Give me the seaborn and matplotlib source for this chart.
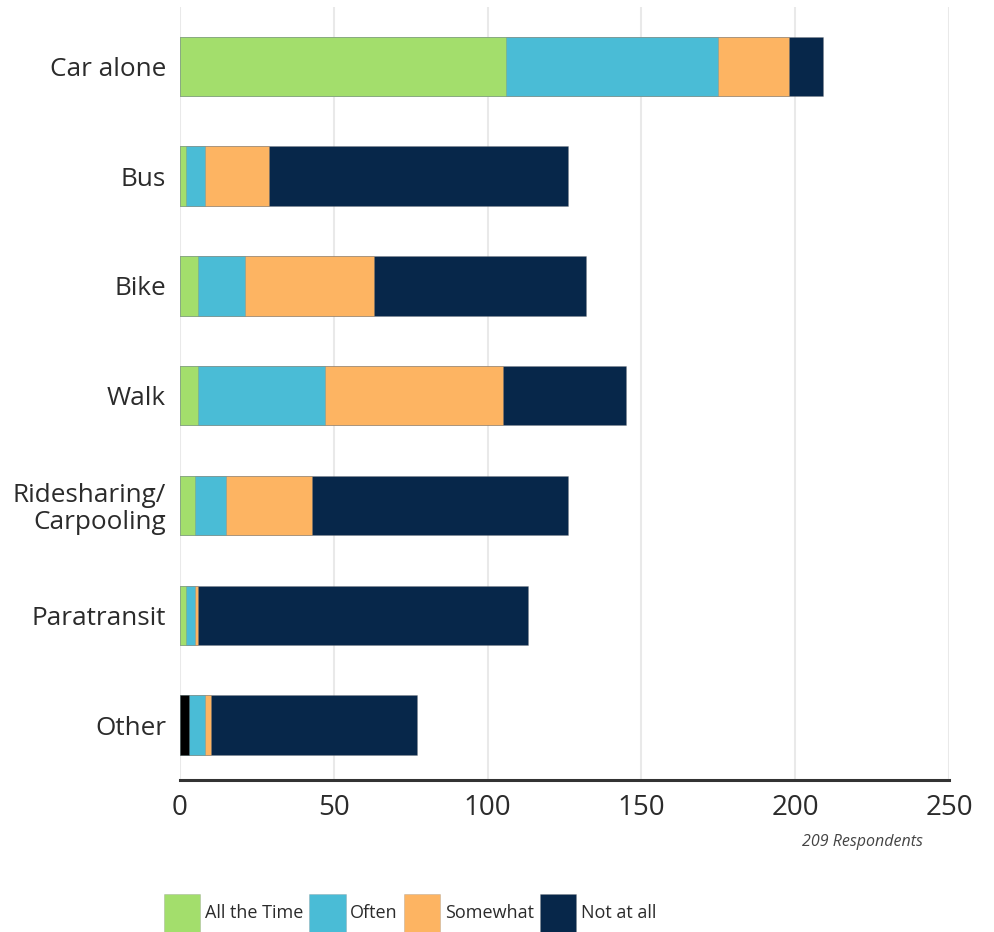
import matplotlib
matplotlib.use("Agg")
import matplotlib.pyplot as plt
from matplotlib.patches import Patch
import numpy as np
import pandas as pd
import seaborn as sns

# Survey: how often respondents use each travel mode
modes = ["Car alone", "Bus", "Bike", "Walk", "Ridesharing/\nCarpooling",
         "Paratransit", "Other"]
levels = ["All the Time", "Often", "Somewhat", "Not at all"]

all_the_time = [106, 2, 6, 6, 5, 2, 3]
often = [69, 6, 15, 41, 10, 3, 5]
somewhat = [23, 21, 42, 58, 28, 1, 2]
not_at_all = [11, 97, 69, 40, 83, 107, 67]

level_colors = ["#A3DE6C", "#4ABCD6", "#FDB462", "#07274A"]
other_first_color = "#000000"
respondents_note = "209 Respondents"
x_ticks = [0, 50, 100, 150, 200, 250]

sns.set_theme(style="white")
plt.rcParams["font.family"] = ["Open Sans", "DejaVu Sans"]
text_color = "#2b2b2b"

df = pd.DataFrame({"mode": modes, "All the Time": all_the_time, "Often": often,
                   "Somewhat": somewhat, "Not at all": not_at_all})
cum = df[levels].cumsum(axis=1)

fig = plt.figure(figsize=(9.94, 9.32), dpi=100)
ax = fig.add_axes([180 / 994, 152 / 932, (949 - 180) / 994, (925 - 152) / 932])

edge_kw = dict(edgecolor=(0.5, 0.5, 0.5, 0.35), linewidth=0.6)
bar_w = 0.54

# Stacked bars drawn as overlapping cumulative totals, outermost first
for lvl, col in reversed(list(zip(levels, level_colors))):
    data = pd.DataFrame({"mode": modes, "value": cum[lvl].values})
    if lvl == levels[0]:
        pal = {m: (other_first_color if m == "Other" else col) for m in modes}
        sns.barplot(data=data, x="value", y="mode", hue="mode", palette=pal,
                    orient="h", width=bar_w, legend=False, ax=ax,
                    saturation=1, **edge_kw)
    else:
        sns.barplot(data=data, x="value", y="mode", color=col, orient="h",
                    width=bar_w, ax=ax, saturation=1, **edge_kw)

ax.set_xlim(0, 250)
ax.set_ylim(6.5, -0.54)
ax.set_xticks(x_ticks)
ax.set_xlabel("")
ax.set_ylabel("")
ax.xaxis.grid(True, color="#e9e9e9", linewidth=1.5)
ax.set_axisbelow(True)
for side in ["top", "right", "left"]:
    ax.spines[side].set_visible(False)
ax.spines["bottom"].set_color("#333333")
ax.spines["bottom"].set_linewidth(2.2)
ax.tick_params(axis="x", length=0, pad=10, labelsize=20, labelcolor=text_color)
ax.tick_params(axis="y", length=0, pad=10, labelsize=18.8, labelcolor=text_color)
for lab in ax.get_yticklabels():
    lab.set_horizontalalignment("right")
    lab.set_multialignment("right")
    lab.set_linespacing(1.1)

fig.text(923 / 994, 1 - 842 / 932, respondents_note, ha="right", va="center",
         fontsize=11.5, style="italic", color="#444444")

handles = [Patch(facecolor=c, edgecolor=(0.5, 0.5, 0.5, 0.3), linewidth=0.6)
           for c in level_colors]
fig.legend(handles, levels, loc="upper center", ncol=4,
           bbox_to_anchor=(410 / 994, 1 - 894 / 932), frameon=False,
           fontsize=13, handlelength=2.0, handleheight=2.87,
           handletextpad=0.25, columnspacing=0.35, borderpad=0,
           borderaxespad=0, labelcolor=text_color)

fig.savefig("out.png", dpi=100)
